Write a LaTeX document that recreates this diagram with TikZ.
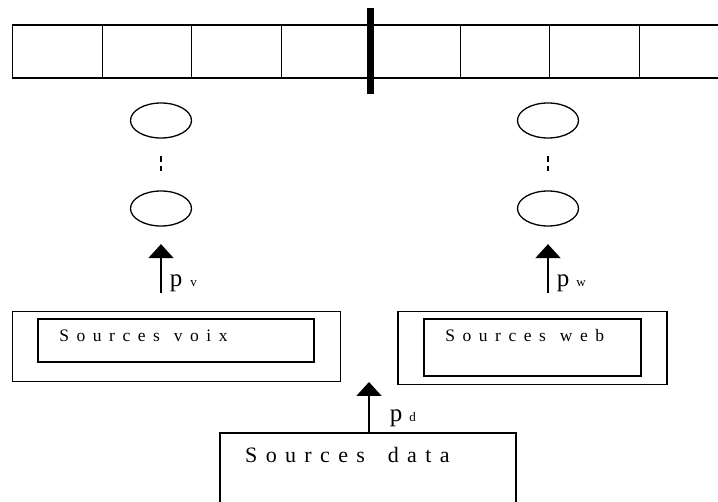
\documentclass[tikz,border=0pt]{standalone}
\usepackage{fontspec}
\setmainfont{Liberation Serif}
\newfontfamily\spacedfont[LetterSpace=43]{Liberation Serif}
\newfontfamily\widefont[LetterSpace=38]{Liberation Serif}
\usetikzlibrary{arrows.meta,shapes.geometric}
\tikzset{
  cellbox/.style={draw, line width=1.2pt, minimum width=89.5pt, minimum height=53pt, inner sep=0pt, anchor=north west},
  slotellipse/.style={draw, ellipse, line width=1.3pt, minimum width=61pt, minimum height=35pt, inner sep=0pt},
  outerbox/.style={draw, line width=1.3pt, inner sep=0pt},
  innerbox/.style={draw, line width=1.2pt, inner sep=0pt},
  srclabel/.style={anchor=base west, inner sep=0pt, font=\spacedfont\fontsize{17.5}{20}\selectfont},
  flowarrow/.style={-{Triangle[length=14pt,width=25pt]}, line width=2pt},
  gapdash/.style={line width=1.6pt, dash pattern=on 6.7pt off 3.3pt},
  plabel/.style={anchor=base west, inner sep=0pt}
}
\newcommand{\prob}[2]{{\fontsize{25}{26}\selectfont p}\hspace{#2}{\fontsize{13}{14}\selectfont #1}}

\begin{document}
\begin{tikzpicture}[x=1pt, y=-1pt]
  \useasboundingbox (0,0) rectangle (718,502);

  % buffer
  \foreach \i in {0,...,7}
    \node[cellbox] (cell\i) at (12+89.5*\i,24.5) {};
  \node[fill, minimum width=7pt, minimum height=86pt, inner sep=0pt] (split) at (370,51) {};

  % queues
  \node[slotellipse] (vtop) at (161,120.5) {};
  \node[slotellipse] (vbot) at (161,208.5) {};
  \node[slotellipse] (wtop) at (548,120.5) {};
  \node[slotellipse] (wbot) at (548,208.5) {};
  \draw[gapdash, shorten <=17pt, shorten >=19pt] (vtop.south) -- (vbot.north);
  \draw[gapdash, shorten <=17pt, shorten >=19pt] (wtop.south) -- (wbot.north);

  % sources
  \node[outerbox, minimum width=328pt, minimum height=70pt] (voixout) at (176.7,346.7) {};
  \node[innerbox, minimum width=276pt, minimum height=43pt] (voixin) at (175.9,340.5) {};
  \node[srclabel] (voixtxt) at (59.2,342) {Sources\hspace{2pt} voix};

  \node[outerbox, minimum width=269pt, minimum height=73pt] (webout) at (532.5,348.3) {};
  \node[innerbox, minimum width=217pt, minimum height=57pt] (webin) at (532.5,347.5) {};
  \node[srclabel] (webtxt) at (445.2,342) {Sources\hspace{2pt} web};

  \node[outerbox, minimum width=296pt, minimum height=80pt] (dataout) at (368,473) {};
  \node[srclabel, font=\widefont\fontsize{22}{24}\selectfont] (datatxt) at (245,462.3) {Sources\hspace{9pt} data};

  % arrows
  \coordinate (pdtip) at (369,382);
  \draw[flowarrow, shorten <=17.7pt, shorten >=17.5pt] (voixout.north -| vbot) -- (vbot.south);
  \draw[flowarrow, shorten <=17.7pt, shorten >=17.5pt] (webout.north -| wbot) -- (wbot.south);
  \draw[flowarrow] (dataout.north -| pdtip) -- (pdtip);

  \node[plabel] (pv) at (169.6,287) {\prob{v}{8pt}};
  \node[plabel] (pw) at (556.6,287) {\prob{w}{7pt}};
  \node[plabel] (pd) at (389.6,421.7) {\prob{d}{7pt}};
\end{tikzpicture}
\end{document}
